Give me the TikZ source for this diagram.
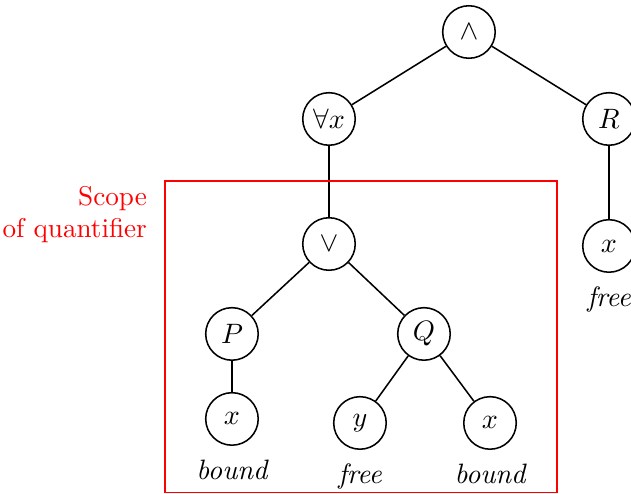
\documentclass[tikz,border=0pt,11pt]{standalone}
\tikzset{term/.style={circle,draw=black,semithick,minimum size=20.5pt,inner sep=0pt}}
\tikzset{edge/.style={draw=black,semithick}}
\tikzset{tag/.style={below=1.5pt,font=\itshape}}

\begin{document}
\begin{tikzpicture}
    \useasboundingbox (0,0) rectangle (8.656,6.776);
    \node[term]                (and)  at (6.433,6.337) {$\wedge$};
    \node[term]                (all)  at (4.513,5.144) {$\forall x$};
    \node[term]                (r)    at (8.354,5.144) {$R$};
    \node[term]                (or)   at (4.513,3.429) {$\vee$};
    \node[term]                (rx)   at (8.354,3.402) {$x$};
    \node[term]                (p)    at (3.182,2.195) {$P$};
    \node[term]                (q)    at (5.816,2.195) {$Q$};
    \node[term]                (px)   at (3.182,1.029) {$x$};
    \node[term]                (qy)   at (4.938,0.974) {$y$};
    \node[term]                (qx)   at (6.722,0.974) {$x$};
    \node[tag] (rxl) at (rx.south) {free};
    \node[tag] (pxl) at (px.south) {bound};
    \node[tag] (qyl) at (qy.south) {free};
    \node[tag] (qxl) at (qx.south) {bound};
    \draw[edge] (and) -- (all);
    \draw[edge] (and) -- (r);
    \draw[edge] (all) -- (or);
    \draw[edge] (r)   -- (rx);
    \draw[edge] (or)  -- (p);
    \draw[edge] (or)  -- (q);
    \draw[edge] (p)   -- (px);
    \draw[edge] (q)   -- (qy);
    \draw[edge] (q)   -- (qx);
    % scope of the quantifier
    \draw[red,semithick] (2.263,0.02) rectangle (7.641,4.294);
    \node[red,align=right,anchor=east,font=\fontsize{10.6}{12.2}\selectfont] (scope) at (2.15,3.834) {Scope\\of quantifier};
\end{tikzpicture}
\end{document}
